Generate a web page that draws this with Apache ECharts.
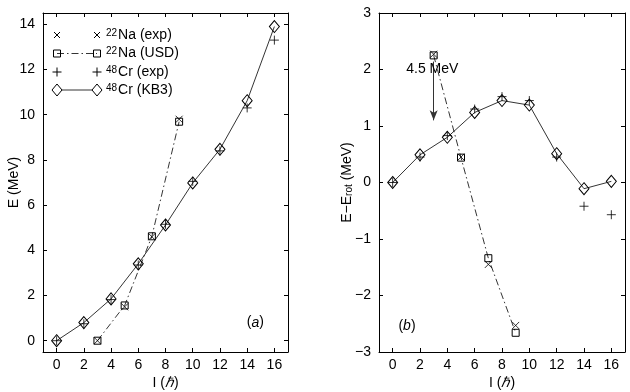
<!DOCTYPE html>
<html>
<head>
<meta charset="utf-8">
<script src="https://cdn.jsdelivr.net/npm/echarts@6/dist/echarts.min.js"></script>
<style>
html, body { margin: 0; padding: 0; background: #fff; }
#main { width: 630px; height: 392px; }
</style>
</head>
<body>
<div id="main"></div>
<script>
// tick labels
const spinTicks = [0, 2, 4, 6, 8, 10, 12, 14, 16];
const eTicksA = [0, 2, 4, 6, 8, 10, 12, 14];
const eTicksB = [-3, -2, -1, 0, 1, 2, 3];

// 48Cr
const crSpin = [0, 2, 4, 6, 8, 10, 12, 14, 16];
const crExpE = [0, 0.75, 1.82, 3.35, 5.15, 7.05, 8.4, 10.3, 13.3];
const crKb3E = [0, 0.8, 1.85, 3.4, 5.12, 6.98, 8.47, 10.62, 13.9];
const crExpDiff = [0, 0.45, 0.83, 1.3, 1.52, 1.45, 0.45, -0.42, -0.57];
const crKb3Diff = [0, 0.49, 0.8, 1.24, 1.45, 1.37, 0.51, -0.11, 0.02];

// 22Na
const naSpin = [3, 5, 7, 9];
const naExpE = [0, 1.5, 4.6, 9.8];
const naUsdE = [0, 1.56, 4.62, 9.69];
const naExpDiff = [2.27, 0.45, -1.45, -2.53];
const naUsdDiff = [2.25, 0.44, -1.34, -2.66];

const FONT = 'Liberation Sans, Arial, Helvetica, sans-serif';
const XMARK = 'path://M0,0L10,10M10,0L0,10';
const PLUS = 'path://M5,0L5,10M0,5L10,5';
const hollow = { color: 'rgba(0,0,0,0)', borderColor: '#000', borderWidth: 1 };

function pairs(xs, ys) {
  return xs.map((x, i) => [x, ys[i]]);
}
function fmtMinus(v) {
  return String(v).replace('-', '\u2212');
}

function xAxes(gridIndex) {
  const base = {
    type: 'value', gridIndex: gridIndex, min: -1, max: 17,
    axisLine: { show: true, onZero: false, lineStyle: { color: '#000', width: 1 } },
    axisTick: { show: true, inside: true, length: 4, customValues: spinTicks, lineStyle: { color: '#000' } },
    splitLine: { show: false }
  };
  return [
    Object.assign({}, base, {
      position: 'bottom',
      axisLabel: { show: true, customValues: spinTicks, margin: 6, color: '#000', fontSize: 14, fontFamily: FONT },
      name: 'I ({i|\u210F})',
      nameLocation: 'middle',
      nameGap: 24,
      nameMoveOverlap: false,
      nameTextStyle: {
        color: '#000', fontSize: 14, fontFamily: FONT,
        rich: { i: { fontStyle: 'italic', fontSize: 14, fontFamily: FONT, color: '#000' } }
      }
    }),
    Object.assign({}, base, { position: 'top', axisLabel: { show: false } })
  ];
}

function yAxes(gridIndex, min, max, ticks, name, nameGap) {
  const base = {
    type: 'value', gridIndex: gridIndex, min: min, max: max,
    axisLine: { show: true, onZero: false, lineStyle: { color: '#000', width: 1 } },
    axisTick: { show: true, inside: true, length: 4, customValues: ticks, lineStyle: { color: '#000' } },
    splitLine: { show: false }
  };
  return [
    Object.assign({}, base, {
      position: 'left',
      axisLabel: { show: true, customValues: ticks, margin: 8, color: '#000', fontSize: 14, fontFamily: FONT, formatter: fmtMinus },
      name: name,
      nameLocation: 'middle',
      nameGap: nameGap,
      nameMoveOverlap: false,
      nameTextStyle: {
        color: '#000', fontSize: 14, fontFamily: FONT,
        rich: {
          n: { fontSize: 14, fontFamily: FONT, color: '#000', lineHeight: 18 },
          sub: { fontSize: 10, fontFamily: FONT, color: '#000', verticalAlign: 'bottom', lineHeight: 10 }
        }
      }
    }),
    Object.assign({}, base, { position: 'right', axisLabel: { show: false } })
  ];
}

function scatter(name, xi, yi, symbol, size, data) {
  return {
    name: name, type: 'scatter', xAxisIndex: xi, yAxisIndex: yi,
    symbol: symbol, symbolSize: size, itemStyle: hollow, data: data,
    z: 3
  };
}
function line(name, xi, yi, symbol, size, data, dash) {
  return {
    name: name, type: 'line', xAxisIndex: xi, yAxisIndex: yi,
    symbol: symbol, symbolSize: size, showSymbol: true, showAllSymbol: true,
    itemStyle: hollow,
    lineStyle: { color: '#000', width: 0.8, type: dash },
    data: data, z: 2
  };
}

// legend drawn MATLAB style: marker - line - marker, then text
const legX1 = 57, legX2 = 97, legTx = 106;
const legRows = [35, 53.5, 72, 90];
const legNames = ['{sup|22}Na (exp)', '{sup|22}Na (USD)', '{sup|48}Cr (exp)', '{sup|48}Cr (KB3)'];
const lineStroke = { stroke: '#000', lineWidth: 1 };

function gLine(x1, y1, x2, y2, style) {
  return { type: 'line', shape: { x1: x1, y1: y1, x2: x2, y2: y2 }, style: Object.assign({}, lineStroke, style || {}) };
}
function gMarker(kind, cx, cy) {
  if (kind === 'x') return [gLine(cx - 3, cy - 3, cx + 3, cy + 3), gLine(cx - 3, cy + 3, cx + 3, cy - 3)];
  if (kind === '+') return [gLine(cx - 4.5, cy, cx + 4.5, cy), gLine(cx, cy - 4.5, cx, cy + 4.5)];
  if (kind === 's') return [{ type: 'rect', shape: { x: cx - 3.5, y: cy - 3.5, width: 7, height: 7 }, style: { fill: 'none', stroke: '#000', lineWidth: 1 } }];
  return [{ type: 'polygon', shape: { points: [[cx, cy - 6], [cx + 5, cy], [cx, cy + 6], [cx - 5, cy]] }, style: { fill: '#fff', stroke: '#000', lineWidth: 1 } }];
}
const legKinds = ['x', 's', '+', 'd'];
const legDash = [null, [7, 3, 1.5, 3], null, []];
const legend = [];
legRows.forEach((y, i) => {
  if (legDash[i]) legend.push(gLine(legX1, y, legX2, y, { lineDash: legDash[i], lineWidth: 0.8 }));
  gMarker(legKinds[i], legX1, y).forEach(e => legend.push(e));
  gMarker(legKinds[i], legX2, y).forEach(e => legend.push(e));
  legend.push({
    type: 'text', x: legTx, y: y,
    style: {
      text: legNames[i], fill: '#000', font: '14px ' + FONT,
      verticalAlign: 'middle',
      rich: {
        sup: { fontSize: 10, fontFamily: FONT, verticalAlign: 'top', lineHeight: 9, padding: [0, 1, 0, 0] }
      }
    }
  });
});

const chart = echarts.init(document.getElementById('main'), null, { renderer: 'canvas' });
chart.setOption({
  animation: false,
  backgroundColor: '#fff',
  textStyle: { fontFamily: FONT },
  grid: [
    { left: 43, top: 13, right: 342, bottom: 40, containLabel: false, outerBoundsMode: 'none' },
    { left: 379, top: 13, right: 5, bottom: 40, containLabel: false, outerBoundsMode: 'none' }
  ],
  xAxis: xAxes(0).concat(xAxes(1)),
  yAxis: yAxes(0, -0.5, 14.5, eTicksA, 'E (MeV)', 22)
    .concat(yAxes(1, -3, 3, eTicksB, 'E\u2212E{sub|rot} (MeV)', 25)),
  graphic: legend,
  series: [
    // panel (a)
    line('22Na (USD)', 0, 0, 'rect', 7, pairs(naSpin, naUsdE), [7, 3, 1.5, 3]),
    scatter('22Na (exp)', 0, 0, XMARK, 7, pairs(naSpin, naExpE)),
    Object.assign(line('48Cr (KB3)', 0, 0, 'diamond', [10, 12], pairs(crSpin, crKb3E), 'solid'), {
      markPoint: {
        symbol: 'circle', symbolSize: 0, silent: true,
        label: {
          show: true, position: 'inside', color: '#000', fontSize: 14, fontFamily: FONT,
          formatter: '({i|a})',
          rich: { i: { fontStyle: 'italic', fontSize: 14, fontFamily: FONT, color: '#000' } }
        },
        data: [{ coord: [14.6, 0.8] }]
      }
    }),
    scatter('48Cr (exp)', 0, 0, PLUS, 9, pairs(crSpin, crExpE)),
    // panel (b)
    Object.assign(line('22Na (USD)', 2, 2, 'rect', 7, pairs(naSpin, naUsdDiff), [7, 3, 1.5, 3]), {
      markLine: {
        silent: true, symbol: ['none', 'arrow'], symbolSize: [6, 10],
        lineStyle: { color: '#333', width: 1, type: 'solid' },
        label: { show: false },
        data: [[{ coord: [3, 2.14] }, { coord: [3, 1.1] }]]
      },
      markPoint: {
        symbol: 'circle', symbolSize: 0, silent: true,
        label: {
          show: true, position: 'inside', color: '#000', fontSize: 14, fontFamily: FONT,
          formatter: function (p) { return p.name; },
          rich: { i: { fontStyle: 'italic', fontSize: 14, fontFamily: FONT, color: '#000' } }
        },
        data: [
          { name: '4.5 MeV', coord: [2.9, 2.0] },
          { name: '({i|b})', coord: [1.05, -2.55] }
        ]
      }
    }),
    scatter('22Na (exp)', 2, 2, XMARK, 7, pairs(naSpin, naExpDiff)),
    line('48Cr (KB3)', 2, 2, 'diamond', [10, 12], pairs(crSpin, crKb3Diff), 'solid'),
    scatter('48Cr (exp)', 2, 2, PLUS, 9, pairs(crSpin, crExpDiff))
  ]
});
</script>
</body>
</html>
